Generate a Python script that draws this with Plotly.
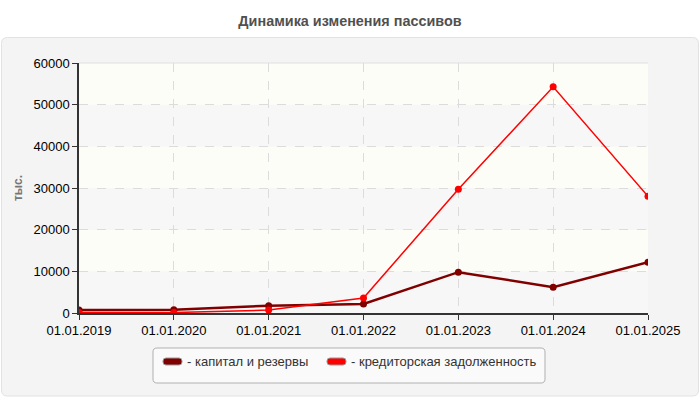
import plotly.graph_objects as go

dates = ["01.01.2019", "01.01.2020", "01.01.2021", "01.01.2022", "01.01.2023", "01.01.2024", "01.01.2025"]
capital = [700, 800, 1750, 2150, 9800, 6200, 12200]
creditors = [100, 100, 700, 3600, 29700, 54300, 28000]
series_names = ["- капитал и резервы", "- кредиторская задолженность"]
series_colors = ["#800000", "#ff0000"]
y_ticks = [0, 10000, 20000, 30000, 40000, 50000, 60000]
y_tick_text = ["0", "10000", "20000", "30000", "40000", "50000", "60000"]

x_idx = list(range(len(dates)))
FONT = "Liberation Sans, Arial, sans-serif"

W, H = 700, 400
ML, MR, MT, MB = 79, 52, 63, 87
PW, PH = W - ML - MR, H - MT - MB

def px(x): return (x - ML) / PW
def py(y): return (H - MB - y) / PH

def rrect_paper(x0, y0, x1, y1, r):
    pts = [("M", x0 + r, y0), ("L", x1 - r, y0), ("Q", x1, y0, x1, y0 + r), ("L", x1, y1 - r),
           ("Q", x1, y1, x1 - r, y1), ("L", x0 + r, y1), ("Q", x0, y1, x0, y1 - r),
           ("L", x0, y0 + r), ("Q", x0, y0, x0 + r, y0)]
    out = []
    for p in pts:
        cmd = p[0]
        coords = p[1:]
        s = " ".join(f"{px(coords[i]):.5f},{py(coords[i+1]):.5f}" for i in range(0, len(coords), 2))
        out.append(f"{cmd} {s}")
    return " ".join(out) + " Z"

fig = go.Figure()
fig.add_trace(go.Scatter(x=x_idx, y=capital, mode="lines+markers", name=series_names[0],
                         line=dict(color=series_colors[0], width=2.5),
                         marker=dict(color=series_colors[0], size=7), showlegend=False))
fig.add_trace(go.Scatter(x=x_idx, y=creditors, mode="lines+markers", name=series_names[1],
                         line=dict(color=series_colors[1], width=1.5),
                         marker=dict(color=series_colors[1], size=7), showlegend=False))

shapes = []
shapes.append(dict(type="path", xref="paper", yref="paper", path=rrect_paper(1.5, 37.5, 698.5, 396, 6),
                   fillcolor="#f4f4f4", line=dict(color="#e2e2e2", width=1), layer="below"))

for i in range(6):
    shapes.append(dict(type="rect", xref="x domain", yref="y", x0=0, x1=1,
                       y0=y_ticks[i], y1=y_ticks[i + 1],
                       fillcolor="#fdfdf7" if i % 2 == 1 else "#f7f7f7",
                       line=dict(width=0), layer="below"))
shapes.append(dict(type="line", xref="x domain", yref="y domain", x0=0, x1=1, y0=1, y1=1,
                   line=dict(color="#e0e0e0", width=1), layer="below"))

shapes.append(dict(type="path", xref="paper", yref="paper", path=rrect_paper(153, 348, 545, 383, 4),
                   fillcolor="#fafafa", line=dict(color="#b0b0b0", width=1)))
annotations = []
sw = [(163, 182, 185), (327, 346, 349)]
for (x0, x1, tx), name, col in zip(sw, series_names, series_colors):
    shapes.append(dict(type="path", xref="paper", yref="paper", path=rrect_paper(x0, 358, x1, 365, 3),
                       fillcolor=col, line=dict(color="#999999", width=1)))
    annotations.append(dict(text=name, xref="paper", yref="paper", x=px(tx), y=py(361.5),
                            xanchor="left", yanchor="middle", showarrow=False,
                            font=dict(family=FONT, size=13, color="#333333")))

fig.update_layout(
    width=W, height=H,
    margin=dict(l=ML, r=MR, t=MT, b=MB, autoexpand=False),
    paper_bgcolor="white", plot_bgcolor="rgba(0,0,0,0)",
    title=dict(text="<b>Динамика изменения пассивов</b>", x=0.5, xanchor="center",
               xref="container", yref="container", y=1 - 21 / H,
               yanchor="middle", font=dict(family=FONT, size=14.4, color="#505050")),
    font=dict(family=FONT, size=13, color="#000000"),
    shapes=shapes, annotations=annotations,
    xaxis=dict(tickmode="array", tickvals=x_idx, ticktext=dates, range=[0, 6], automargin=False,
               showline=True, linecolor="#333333", linewidth=1.5, ticks="outside", ticklen=5,
               tickcolor="#333333", showgrid=True, gridcolor="#dcdcdc", griddash="dash",
               zeroline=False, tickfont=dict(size=13, color="#000000")),
    yaxis=dict(tickmode="array", tickvals=y_ticks, ticktext=y_tick_text, range=[0, 60000], automargin=False,
               showline=True, linecolor="#333333", linewidth=1.5, ticks="outside", ticklen=5,
               tickcolor="#333333", showgrid=True, gridcolor="#dcdcdc", griddash="dash",
               zeroline=False, tickfont=dict(size=13, color="#000000"),
               title=dict(text="<b>тыс.</b>", font=dict(size=12, color="#777777"), standoff=8)),
)

fig.write_html("out.html", config={"displayModeBar": False},
               post_script="document.body.style.margin='0';")
